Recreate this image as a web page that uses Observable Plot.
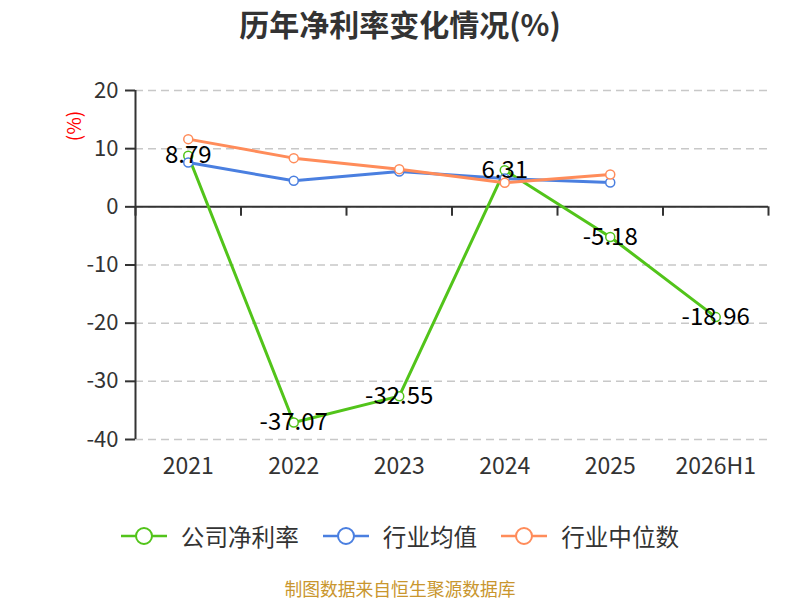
<!DOCTYPE html>
<html><head><meta charset="utf-8">
<script src="https://cdn.jsdelivr.net/npm/d3@7"></script>
<script src="https://cdn.jsdelivr.net/npm/@observablehq/plot@0.6"></script>
<style>
body{margin:0;background:#fff;font-family:"Noto Sans CJK SC","Noto Sans",sans-serif;}
#wrap{position:relative;width:800px;height:600px;overflow:hidden;}
#title{position:absolute;top:3px;left:0;width:800px;text-align:center;font-size:30px;font-weight:bold;color:#333;line-height:40px;}
#chart{position:absolute;left:0;top:50px;}
#ylab{position:absolute;left:53px;top:112px;width:40px;text-align:center;color:red;font-size:19px;line-height:28px;transform:rotate(-90deg);}
#legend{position:absolute;top:518px;left:0;width:800px;display:flex;justify-content:center;align-items:center;font-size:23.6px;color:#333;line-height:36px;}
.item{display:flex;align-items:center;margin:0 12px;}
.item svg{margin-right:14px;}
#caption{position:absolute;top:578px;left:0;width:800px;text-align:center;font-size:17.8px;color:#c9962e;line-height:20px;}
</style></head>
<body>
<div id="wrap">
  <div id="title">历年净利率变化情况(%)</div>
  <div id="chart"></div>
  <div id="ylab">(%)</div>
  <div id="legend"></div>
  <div id="caption">制图数据来自恒生聚源数据库</div>
</div>
<script>
const years = ["2021","2022","2023","2024","2025","2026H1"];
const company = [8.79, -37.07, -32.55, 6.31, -5.18, -18.96];
const industryAvg = [7.62, 4.47, 6.07, 4.87, 4.18];
const industryMedian = [11.64, 8.37, 6.48, 4.13, 5.55];
const yTicks = [-40, -30, -20, -10, 0, 10, 20];
const seriesNames = ["公司净利率", "行业均值", "行业中位数"];
const colors = ["#52c41a", "#4a7fe0", "#ff8c5a"];

const toRows = vals => vals.map((v, i) => ({i, v}));
const compRows = toRows(company);
const avgRows = toRows(industryAvg);
const medRows = toRows(industryMedian);
const edges = d3.range(-0.5, years.length, 1);

const chart = Plot.plot({
  width: 800,
  height: 450,
  marginLeft: 135,
  marginRight: 32,
  marginTop: 40,
  marginBottom: 61,
  style: {fontFamily: '"Noto Sans CJK SC","Noto Sans",sans-serif', background: "transparent"},
  x: {type: "linear", domain: [-0.5, years.length - 0.5]},
  y: {domain: [-40, 20]},
  marks: [
    Plot.gridY(yTicks, {stroke: "#c8c8c8", strokeOpacity: 1, strokeWidth: 1.5, strokeDasharray: "8,5"}),
    Plot.axisY(yTicks, {tickSize: 10, tickPadding: 7, stroke: "#333", strokeWidth: 2, fill: "#333", fontSize: 22, label: null, tickFormat: d => String(d)}),
    Plot.ruleX([-0.5], {y1: -40, y2: 20, stroke: "#333", strokeWidth: 2}),
    Plot.ruleY([0], {stroke: "#333", strokeWidth: 2}),
    Plot.ruleX(edges, {y1: 0, y2: -1.6, stroke: "#333", strokeWidth: 2}),
    Plot.axisX(d3.range(years.length), {tickSize: 0, tickPadding: 18, tickFormat: i => years[i], fontSize: 23, fill: "#333", label: null}),
    Plot.line(compRows, {x: "i", y: "v", stroke: colors[0], strokeWidth: 3}),
    Plot.dot(compRows, {x: "i", y: "v", r: 4.5, fill: "white", stroke: colors[0], strokeWidth: 1.5}),
    Plot.line(avgRows, {x: "i", y: "v", stroke: colors[1], strokeWidth: 3}),
    Plot.dot(avgRows, {x: "i", y: "v", r: 4.5, fill: "white", stroke: colors[1], strokeWidth: 1.5}),
    Plot.line(medRows, {x: "i", y: "v", stroke: colors[2], strokeWidth: 3}),
    Plot.dot(medRows, {x: "i", y: "v", r: 4.5, fill: "white", stroke: colors[2], strokeWidth: 1.5}),
    Plot.text(compRows, {x: "i", y: "v", text: d => d.v.toFixed(2), fill: "#000", fontSize: 24})
  ]
});
document.getElementById("chart").appendChild(chart);

const legend = document.getElementById("legend");
seriesNames.forEach((name, k) => {
  const item = document.createElement("div");
  item.className = "item";
  item.innerHTML = `<svg width="46" height="20"><line x1="0" y1="10" x2="46" y2="10" stroke="${colors[k]}" stroke-width="2.5"/><circle cx="23" cy="10" r="8" fill="white" stroke="${colors[k]}" stroke-width="2"/></svg><span>${name}</span>`;
  legend.appendChild(item);
});
</script>
</body></html>
